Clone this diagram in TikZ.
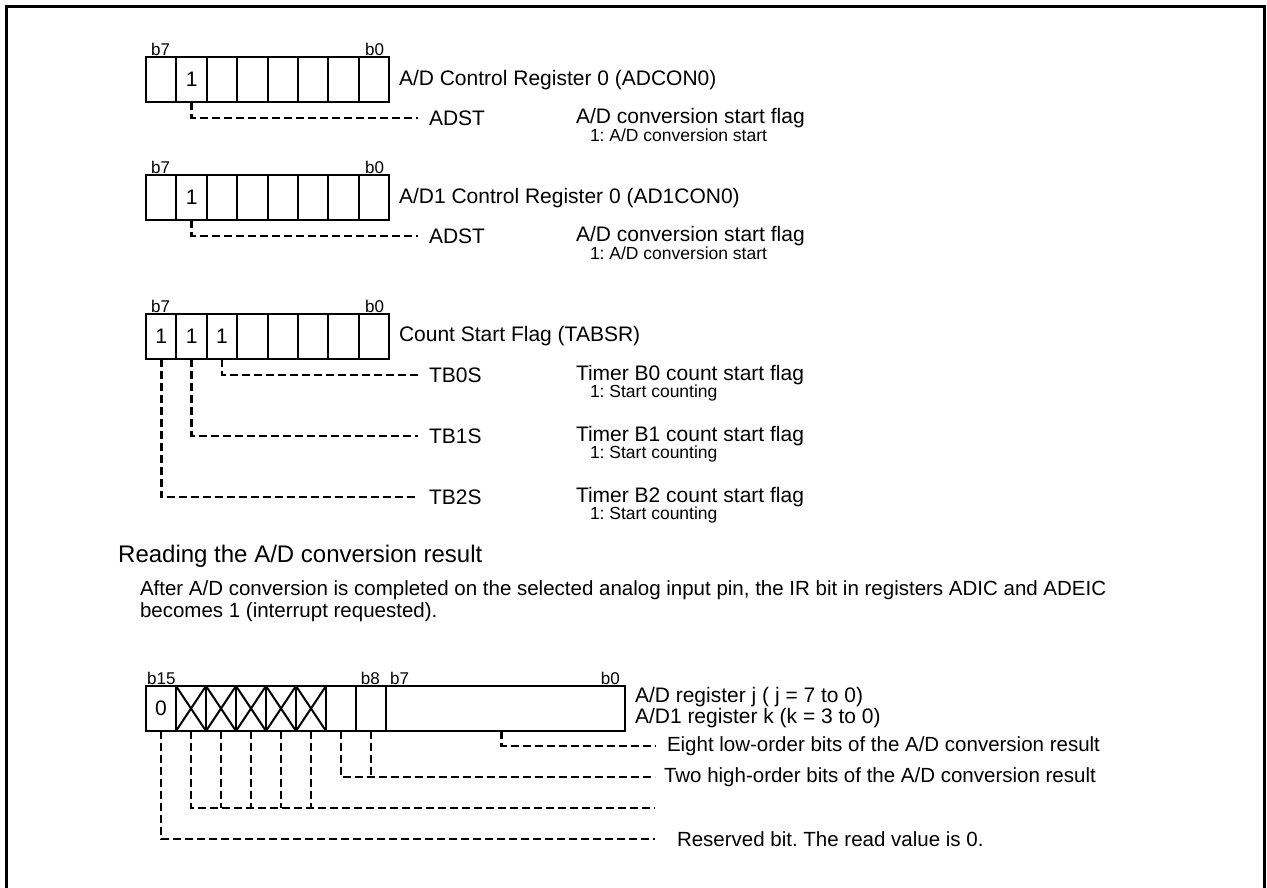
\documentclass[tikz,border=0pt]{standalone}
\usepackage{fontspec}
\setmainfont{Liberation Sans}
\newcommand\fsMain{\fontsize{21}{24}\selectfont}
\newcommand\fsPara{\fontsize{20.5}{24}\selectfont}
\newcommand\fsSub{\fontsize{17.5}{20}\selectfont}
\newcommand\fsHead{\fontsize{24}{28}\selectfont}
\newcommand\fsBit{\fontsize{17}{20}\selectfont}
\frenchspacing
\begin{document}
\frenchspacing
\begin{tikzpicture}[x=1pt,y=-1pt,
  cell/.style={draw, line width=2pt, minimum width=30.4pt, minimum height=45pt, inner sep=0pt, outer sep=0pt, font=\fsMain},
  wcell/.style={cell, minimum width=30pt},
  blab/.style={inner sep=0pt, font=\fsBit},
  txt/.style={inner sep=0pt, outer sep=0pt, anchor=west, font=\fsMain},
  ptxt/.style={inner sep=0pt, outer sep=0pt, anchor=west, font=\fsPara},
  sub/.style={inner sep=0pt, outer sep=0pt, anchor=west, font=\fsSub},
  lbl/.style={inner xsep=11pt, inner ysep=0pt, outer sep=0pt, anchor=west, font=\fsMain},
  dl/.style={line width=2.8pt, dash pattern=on 8pt off 4pt}
]
\useasboundingbox (0,0) rectangle (1267,887);
\draw[line width=3pt] (6,895) -- (6,6) -- (1264,6) -- (1264,895);

% ---------- Register ADCON0 ----------
\foreach \i/\t in {1/,2/1,3/,4/,5/,6/,7/,8/}
  \node[cell] (a\i) at ({146+30.4*(\i-0.5)},79.5) {\t};
\node[blab, anchor=base west] (a7lab) at ([xshift=5pt,yshift=2pt]a1.north west) {b7};
\node[blab, anchor=base east] (a0lab) at ([xshift=-5pt,yshift=2pt]a8.north east) {b0};
\node[txt] (aname) at (399,80) {A/D Control Register 0 (ADCON0)};
\node[lbl] (adstA) at (418,118) {ADST};
\node[txt] (adescA) at (576,118) {A/D conversion start flag};
\node[sub] (asubA) at (590,135) {1: A/D conversion start};
\draw[dl] (a2.south) |- (adstA.west);

% ---------- Register AD1CON0 ----------
\foreach \i/\t in {1/,2/1,3/,4/,5/,6/,7/,8/}
  \node[cell] (b\i) at ({146+30.4*(\i-0.5)},197.5) {\t};
\node[blab, anchor=base west] (b7lab) at ([xshift=5pt,yshift=2pt]b1.north west) {b7};
\node[blab, anchor=base east] (b0lab) at ([xshift=-5pt,yshift=2pt]b8.north east) {b0};
\node[txt] (bname) at (399,198) {A/D1 Control Register 0 (AD1CON0)};
\node[lbl] (adstB) at (418,236) {ADST};
\node[txt] (adescB) at (576,236) {A/D conversion start flag};
\node[sub] (asubB) at (590,253) {1: A/D conversion start};
\draw[dl] (b2.south) |- (adstB.west);

% ---------- Register TABSR ----------
\foreach \i/\t in {1/1,2/1,3/1,4/,5/,6/,7/,8/}
  \node[cell] (c\i) at ({146+30.4*(\i-0.5)},336.5) {\t};
\node[blab, anchor=base west] (c7lab) at ([xshift=5pt,yshift=2pt]c1.north west) {b7};
\node[blab, anchor=base east] (c0lab) at ([xshift=-5pt,yshift=2pt]c8.north east) {b0};
\node[txt] (cname) at (399,336) {Count Start Flag (TABSR)};
\node[lbl] (tb0) at (418,375) {TB0S};
\node[txt] (tb0d) at (576,375) {Timer B0 count start flag};
\node[sub] (tb0s) at (590,393) {1: Start counting};
\node[lbl] (tb1) at (418,436) {TB1S};
\node[txt] (tb1d) at (576,436) {Timer B1 count start flag};
\node[sub] (tb1s) at (590,454) {1: Start counting};
\node[lbl] (tb2) at (418,497) {TB2S};
\node[txt] (tb2d) at (576,497) {Timer B2 count start flag};
\node[sub] (tb2s) at (590,515) {1: Start counting};
\draw[dl] (c3.south) |- (tb0.west);
\draw[dl] (c2.south) |- (tb1.west);
\draw[dl] (c1.south) |- (tb2.west);

% ---------- Reading section ----------
\node[inner sep=0pt, anchor=west, font=\fsHead] (head) at (118,556) {Reading the A/D conversion result};
\node[ptxt] (para1) at (140,590) {After A/D conversion is completed on the selected analog input pin, the IR bit in registers ADIC and ADEIC};
\node[ptxt] (para2) at (140,612) {becomes 1 (interrupt requested).};

% ---------- 16-bit register ----------
\foreach \i/\t in {1/0,2/,3/,4/,5/,6/,7/,8/}
  \node[wcell] (d\i) at ({146+30*(\i-0.5)},708.5) {\t};
\node[cell, minimum width=239pt] (dlow) at (505.5,708.5) {};
\foreach \i in {2,...,6}{
  \draw[line width=2pt] (d\i.north west) -- (d\i.south east);
  \draw[line width=2pt] (d\i.north east) -- (d\i.south west);
}
\node[blab, anchor=base west] (d15lab) at ([xshift=1pt,yshift=2pt]d1.north west) {b15};
\node[blab, anchor=base east] (d8lab) at ([xshift=-6pt,yshift=2pt]d8.north east) {b8};
\node[blab, anchor=base west] (d7lab) at ([xshift=4pt,yshift=2pt]dlow.north west) {b7};
\node[blab, anchor=base east] (d0lab) at ([xshift=-5pt,yshift=2pt]dlow.north east) {b0};
\node[txt] (dname1) at (635,697) {A/D register j ( j = 7 to 0)};
\node[txt] (dname2) at (635,718) {A/D1 register k (k = 3 to 0)};

\node[inner xsep=12pt, inner ysep=0pt, outer sep=0pt, anchor=west, font=\fsPara] (eight) at (655,746) {Eight low-order bits of the A/D conversion result};
\node[inner xsep=9pt, inner ysep=0pt, outer sep=0pt, anchor=west, font=\fsPara] (two) at (655,777) {Two high-order bits of the A/D conversion result};
\coordinate (xend) at (655,808);
\node[inner xsep=22pt, inner ysep=0pt, outer sep=0pt, anchor=west, font=\fsPara] (resv) at (655,839) {Reserved bit. The read value is 0.};

\draw[dl] ([xshift=-4pt]dlow.south) |- (eight.west);
\draw[dl] (d7.south) |- (two.west);
\draw[dl] (d8.south) -- (d8.south |- two.west);
\draw[dl] (d2.south) |- (xend);
\foreach \i in {3,...,6}
  \draw[dl] (d\i.south) -- (d\i.south |- xend);
\draw[dl] (d1.south) |- (resv.west);
\end{tikzpicture}
\end{document}
